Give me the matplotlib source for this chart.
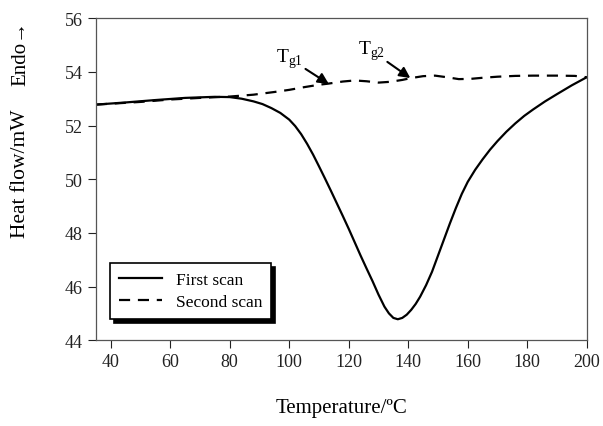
import matplotlib
matplotlib.use('Agg')
import matplotlib.pyplot as plt

plt.rcParams['font.family'] = ['Liberation Serif', 'DejaVu Serif']
plt.rcParams['mathtext.fontset'] = 'custom'
plt.rcParams['mathtext.rm'] = 'Liberation Serif'

# First scan
first_x = [35, 45, 55, 65, 75, 80, 84, 88, 91, 94, 97, 100, 102, 104, 106, 108, 110, 112,
           114, 116, 118, 120, 122, 124, 126, 128, 130, 132, 133.5, 135, 136.5, 138, 139.5,
           141, 142.5, 144, 146, 148, 150, 152, 154, 156, 158, 160, 162.5, 165, 167.5, 170,
           173, 176, 179, 182, 186, 190, 195, 200]
first_y = [52.78, 52.86, 52.95, 53.03, 53.07, 53.06, 53.0, 52.9, 52.8, 52.65, 52.47, 52.22,
           51.98, 51.68, 51.32, 50.92, 50.48, 50.03, 49.57, 49.1, 48.63, 48.15, 47.65, 47.15,
           46.67, 46.2, 45.7, 45.25, 45.0, 44.83, 44.78, 44.83, 44.95, 45.13, 45.35, 45.62,
           46.05, 46.55, 47.15, 47.75, 48.35, 48.92, 49.45, 49.9, 50.35, 50.74, 51.1, 51.42,
           51.77, 52.08, 52.36, 52.6, 52.9, 53.17, 53.5, 53.8]

# Second scan
second_x = [35, 50, 60, 70, 80, 88, 95, 100, 105, 110, 113, 118, 122, 126, 130, 134, 138,
            141, 145, 149, 153, 157, 161, 165, 170, 176, 182, 190, 196, 200]
second_y = [52.78, 52.88, 52.97, 53.03, 53.08, 53.15, 53.25, 53.33, 53.43, 53.52, 53.56,
            53.64, 53.68, 53.65, 53.6, 53.63, 53.7, 53.77, 53.84, 53.86, 53.8, 53.73, 53.74,
            53.78, 53.82, 53.85, 53.86, 53.86, 53.85, 53.8]

x_ticks = [40, 60, 80, 100, 120, 140, 160, 180, 200]
y_ticks = [44, 46, 48, 50, 52, 54, 56]

fig = plt.figure(figsize=(6.03, 4.27), dpi=100)
ax = fig.add_axes([0.159, 0.201, 0.814, 0.754])

ax.plot(first_x, first_y, color='black', lw=1.6, label='First scan')
ax.plot(second_x, second_y, color='black', lw=1.6, linestyle=(0, (5, 3.5)), label='Second scan')

ax.set_xlim(35, 200)
ax.set_ylim(44, 56)
ax.set_xticks(x_ticks)
ax.set_yticks(y_ticks)
ax.tick_params(direction='out', length=6, width=0.8, labelsize=13, colors='#222222')
for s in ax.spines.values():
    s.set_color('#555555')
    s.set_linewidth(0.9)

ax.set_xlabel('Temperature/ºC', fontsize=15)
ax.xaxis.set_label_coords(0.5, -0.18)
ax.set_ylabel('Heat flow/mW', fontsize=15.5)
ax.yaxis.set_label_coords(-0.135, 0.52)
fig.text(0.034, 0.874, 'Endo→', rotation=90, fontsize=15, ha='center', va='center')

arrow = dict(arrowstyle='-|>', color='black', lw=1.5, mutation_scale=16, shrinkA=0, shrinkB=0)
ax.annotate(r'T$_{\mathrm{g1}}$', xy=(113.3, 53.55), xytext=(100, 54.5),
            fontsize=14, ha='center', va='center', arrowprops=arrow)
ax.annotate(r'T$_{\mathrm{g2}}$', xy=(140.7, 53.77), xytext=(127.5, 54.8),
            fontsize=14, ha='center', va='center', arrowprops=arrow)

leg = ax.legend(loc='upper left', bbox_to_anchor=(0.029, 0.24), fontsize=12.5,
                frameon=True, fancybox=False,
                shadow={'color': 'black', 'alpha': 1, 'ox': 3, 'oy': -3},
                edgecolor='black', framealpha=1, handlelength=2.5, borderpad=0.5,
                labelspacing=0.35, borderaxespad=0)
leg.get_frame().set_linewidth(1.2)

fig.savefig('out.png', dpi=100)
